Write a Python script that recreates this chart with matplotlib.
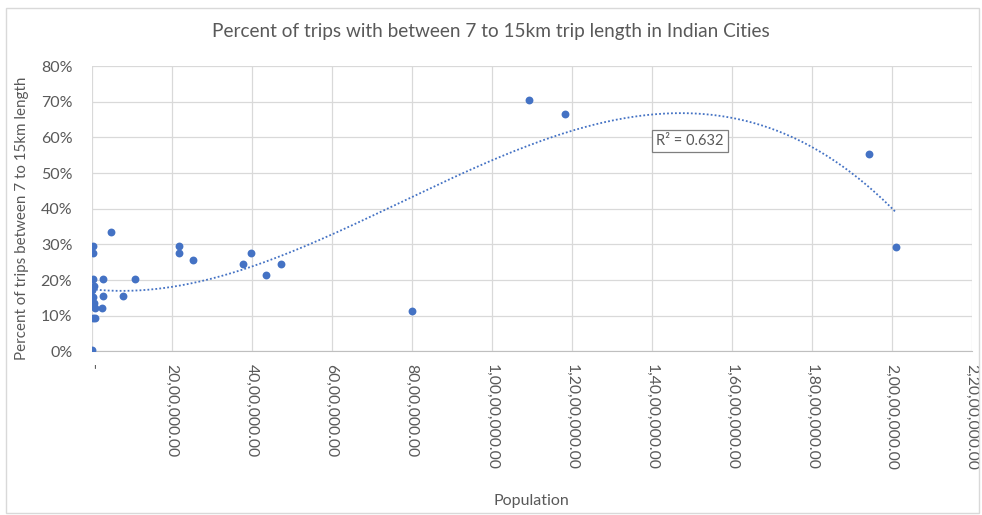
import numpy as np
import matplotlib
matplotlib.use('Agg')
import matplotlib.pyplot as plt
from matplotlib.ticker import FuncFormatter, PercentFormatter, MultipleLocator
from matplotlib.patches import Rectangle

# City population vs share of trips between 7 and 15 km
population = [
    5000, 30000, 30000, 40000, 50000, 10000, 30000, 5000, 60000, 40000,
    85000, 20000, 70000,
    290000, 1080000, 290000, 770000, 250000, 480000,
    2170000, 2170000, 2540000, 3790000, 3970000, 4350000, 4720000,
    8000000, 10920000, 11820000, 19430000, 20110000,
]
trip_share = [
    0.3, 29.6, 27.5, 20.2, 18.3, 17.2, 15.2, 14.0, 13.5, 12.8,
    12.1, 9.5, 9.5,
    20.2, 20.2, 15.5, 15.5, 12.2, 33.5,
    29.6, 27.5, 25.6, 24.4, 27.5, 21.5, 24.4,
    11.4, 70.6, 66.6, 55.4, 29.4,
]
r2_label = "R\u00b2 = 0.632"

GREY = "#595959"
BLUE = "#4472C4"
plt.rcParams['font.family'] = ['Lato', 'DejaVu Sans']


def indian_format(x, pos):
    # accounting style: zero shown as a dash, lakh/crore digit grouping
    if abs(x) < 1:
        return "-"
    s = str(int(round(x)))
    head, tail = s[:-3], s[-3:]
    groups = []
    while len(head) > 2:
        groups.insert(0, head[-2:])
        head = head[:-2]
    if head:
        groups.insert(0, head)
    return ",".join(groups + [tail]) + ".00"


fig = plt.figure(figsize=(9.82, 5.15), dpi=100)
ax = fig.add_axes([0.0934, 0.3175, 0.8961, 0.5543])

x = np.array(population, dtype=float)
y = np.array(trip_share, dtype=float)

# third order polynomial trendline
coef = np.polyfit(x / 1e6, y, 3)
xs = np.linspace(x.min(), x.max(), 300)
ax.plot(xs, np.polyval(coef, xs / 1e6), linestyle=(0, (1, 1.2)), color=BLUE,
        linewidth=1.3, zorder=2)

ax.scatter(x, y, s=32, color=BLUE, zorder=3, linewidths=0)

ax.set_xlim(0, 22000000)
ax.set_ylim(0, 80)
ax.xaxis.set_major_locator(MultipleLocator(2000000))
ax.yaxis.set_major_locator(MultipleLocator(10))
ax.xaxis.set_major_formatter(FuncFormatter(indian_format))
ax.yaxis.set_major_formatter(PercentFormatter(xmax=100, decimals=0))

ax.grid(True, color="#d9d9d9", linewidth=0.9)
ax.set_axisbelow(True)
for side in ["top", "right", "left"]:
    ax.spines[side].set_visible(False)
ax.spines["bottom"].set_color("#bfbfbf")
ax.tick_params(axis="both", length=0, colors=GREY)
ax.tick_params(axis="x", pad=9, labelsize=11.3)
ax.tick_params(axis="y", pad=14, labelsize=11.5)
for lbl in ax.get_xticklabels():
    lbl.set_rotation(270)

ax.set_xlabel("Population", color=GREY, fontsize=11.5)
ax.xaxis.set_label_coords(0.5, -0.5)
ax.set_ylabel("Percent of trips between 7 to 15km length", color=GREY,
              fontsize=10.9)
ax.yaxis.set_label_coords(-0.071, 0.465)
fig.text(0.5, 0.938, "Percent of trips with between 7 to 15km trip length in Indian Cities",
         ha="center", va="center", color=GREY, fontsize=13.7)

ax.text(0.68, 0.737, r2_label, transform=ax.transAxes, ha="center", va="center",
        color=GREY, fontsize=10.5,
        bbox=dict(boxstyle="square,pad=0.3", facecolor="white", edgecolor="#7f7f7f",
                  linewidth=0.9))

# chart outline
fig.patches.append(Rectangle((0.006, 0.004), 0.991, 0.98, transform=fig.transFigure,
                             fill=False, edgecolor="#d9d9d9", linewidth=1.0))

fig.savefig("out.png", dpi=100)
